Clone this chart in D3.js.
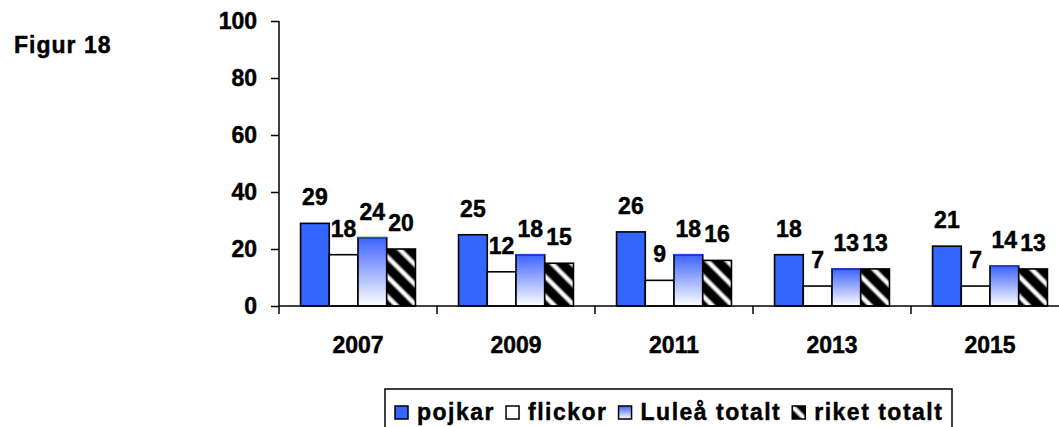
<!DOCTYPE html>
<html>
<head>
<meta charset="utf-8">
<script src="https://cdn.jsdelivr.net/npm/d3@7"></script>
<style>
  html, body { margin: 0; padding: 0; background: #fff; }
  svg { display: block; }
  text { font-family: "Liberation Sans", Arial, sans-serif; font-weight: bold; fill: #000; stroke: #000; stroke-width: 0.45px; }
</style>
</head>
<body>
<svg id="chart" width="1059" height="427"></svg>
<script>
const categories = ["2007", "2009", "2011", "2013", "2015"];
const seriesNames = ["pojkar", "flickor", "Luleå totalt", "riket totalt"];
const pojkar = [29, 25, 26, 18, 21];
const flickor = [18, 12, 9, 7, 7];
const luleaTotalt = [24, 18, 18, 13, 14];
const riketTotalt = [20, 15, 16, 13, 13];
const yTicks = [0, 20, 40, 60, 80, 100];
const title = "Figur 18";

const seriesValues = [pojkar, flickor, luleaTotalt, riketTotalt];

const svg = d3.select("#chart");
const defs = svg.append("defs");

// gradient for Luleå totalt
const grad = defs.append("linearGradient").attr("id", "gradLulea")
  .attr("x1", 0).attr("y1", 0).attr("x2", 0).attr("y2", 1);
grad.append("stop").attr("offset", "0%").attr("stop-color", "#3d62ff");
grad.append("stop").attr("offset", "100%").attr("stop-color", "#ffffff");

// stripe pattern for riket totalt
const P = 14;
const pat = defs.append("pattern").attr("id", "stripes")
  .attr("patternUnits", "userSpaceOnUse")
  .attr("width", P).attr("height", P)
  .attr("patternTransform", "rotate(-45)");
pat.append("rect").attr("width", P).attr("height", P).attr("fill", "#000");
const sg = defs.append("linearGradient").attr("id", "stripeGrad")
  .attr("x1", 0).attr("y1", 0).attr("x2", 1).attr("y2", 0);
sg.append("stop").attr("offset", "0%").attr("stop-color", "#000");
sg.append("stop").attr("offset", "35%").attr("stop-color", "#fff");
sg.append("stop").attr("offset", "65%").attr("stop-color", "#fff");
sg.append("stop").attr("offset", "100%").attr("stop-color", "#000");
pat.append("rect").attr("x", 3.5).attr("width", 7).attr("height", P).attr("fill", "url(#stripeGrad)");

const fills = ["#3366ff", "#ffffff", "url(#gradLulea)", "url(#stripes)"];

const y = d3.scaleLinear().domain([0, 100]).range([306, 21]);
const x0 = d3.scaleBand().domain(categories).range([279, 279 + 158 * 5]).padding(0);
const x1 = d3.scaleBand().domain(seriesNames).range([0, x0.bandwidth()])
  .paddingInner(0).paddingOuter(0.75);

// title
svg.append("text").attr("x", 14).attr("y", 53)
  .style("font-size", "23px").style("letter-spacing", "1px").text(title);

// y axis
const yAxis = svg.append("g").attr("transform", "translate(279,0)")
  .call(d3.axisLeft(y).tickValues(yTicks).tickSize(8).tickPadding(14).tickFormat(d3.format("d")));
yAxis.select(".domain").attr("stroke", "#000").attr("stroke-width", 1.5)
  .attr("d", `M0,${y(100)}V${y(0)}`);
yAxis.selectAll(".tick line").attr("stroke", "#000").attr("stroke-width", 1.5);
yAxis.selectAll(".tick text").style("font-size", "23px")
  .style("font-family", '"Liberation Sans", Arial, sans-serif').style("font-weight", "bold")
  .attr("fill", "#000");

// bars
const groups = svg.append("g").selectAll("g").data(categories).join("g")
  .attr("transform", d => `translate(${x0(d)},0)`);

groups.each(function(cat, ci) {
  const g = d3.select(this);
  seriesNames.forEach((s, si) => {
    const v = seriesValues[si][ci];
    g.append("rect")
      .attr("x", x1(s)).attr("y", y(v))
      .attr("width", x1.bandwidth()).attr("height", y(0) - y(v))
      .attr("fill", fills[si]).attr("stroke", "#000").attr("stroke-width", 1.6);
    if (si === 2) {
      g.append("line").attr("x1", x1(s)).attr("x2", x1(s) + x1.bandwidth())
        .attr("y1", y(v)).attr("y2", y(v)).attr("stroke", "#2255ff").attr("stroke-width", 1.2);
    }
  });
  seriesNames.forEach((s, si) => {
    const v = seriesValues[si][ci];
    g.append("text")
      .attr("x", x1(s) + x1.bandwidth() / 2).attr("y", y(v) - 18)
      .attr("text-anchor", "middle").style("font-size", "23px").text(v);
  });
});

// x axis
const xAxisY = y(0);
svg.append("line").attr("x1", 279).attr("x2", 1059 + 20)
  .attr("y1", xAxisY).attr("y2", xAxisY).attr("stroke", "#000").attr("stroke-width", 1.5);
const bounds = categories.map(c => x0(c)).concat([x0.range()[1]]);
svg.append("g").selectAll("line").data(bounds).join("line")
  .attr("x1", d => d).attr("x2", d => d)
  .attr("y1", xAxisY).attr("y2", xAxisY + 8)
  .attr("stroke", "#000").attr("stroke-width", 1.5);
svg.append("g").selectAll("text").data(categories).join("text")
  .attr("x", d => x0(d) + x0.bandwidth() / 2).attr("y", 353)
  .attr("text-anchor", "middle").style("font-size", "23px").text(d => d);

// legend
const legend = svg.append("g");
legend.append("rect").attr("x", 385).attr("y", 389).attr("width", 567).attr("height", 80)
  .attr("fill", "#fff").attr("stroke", "#000").attr("stroke-width", 1.5);
let lx = 395;
seriesNames.forEach((s, si) => {
  legend.append("rect").attr("x", lx).attr("y", 406).attr("width", 13).attr("height", 13)
    .attr("fill", fills[si]).attr("stroke", "#000").attr("stroke-width", 1.5);
  const t = legend.append("text").attr("x", lx + 22).attr("y", 420)
    .style("font-size", "23px").style("letter-spacing", "1.5px").text(s);
  lx += 22 + t.node().getComputedTextLength() + 11;
});
</script>
</body>
</html>
